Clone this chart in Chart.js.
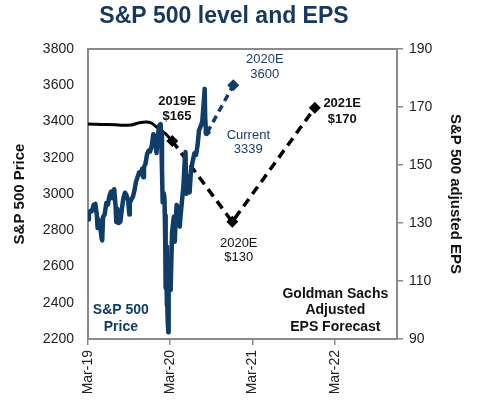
<!DOCTYPE html>
<html><head><meta charset="utf-8">
<script src="https://cdn.jsdelivr.net/npm/chart.js@4"></script>
<style>html,body{margin:0;padding:0;background:#fff;}#wrap{width:484px;height:409px;}</style>
</head><body><div id="wrap"><canvas id="c" width="484" height="409"></canvas></div>
<script>
// X axis unit: months along the axis, 0 = "Mar-19" tick
const tickValues = [0, 12, 24, 36];
const tickLabels = ['Mar-19', 'Mar-20', 'Mar-21', 'Mar-22'];
const priceTicks = [2200, 2400, 2600, 2800, 3000, 3200, 3400, 3600, 3800];
const epsTicks = [90, 110, 130, 150, 170, 190];

// S&P 500 price
const priceMonths = [0,0.13,0.37,0.57,0.83,1.07,1.3,1.4,1.53,1.77,2.0,2.07,2.2,2.43,2.67,2.9,3.13,3.37,3.6,3.83,4.03,4.13,4.27,4.43,4.5,4.73,4.97,5.17,5.4,5.63,5.87,6.03,6.1,6.33,6.57,6.8,7.0,7.23,7.47,7.7,7.93,8.07,8.17,8.4,8.63,8.87,9.07,9.3,9.53,9.77,10.0,10.2,10.43,10.6,10.67,10.8,10.9,11.07,11.17,11.27,11.3,11.37,11.4,11.5,11.53,11.57,11.63,11.73,11.77,11.83,11.87,12.0,12.07,12.27,12.53,12.67,12.77,12.93,13.0,13.23,13.4,13.47,13.7,13.93,14.13,14.23,14.33,14.37,14.6,14.83,15.03,15.3,15.53,15.77,16.0,16.2,16.43,16.67,16.9,17.03,17.1,17.23,17.4];
const priceLevels = [2860,2892,2907,2905,2940,2946,2881,2812,2860,2826,2752,2744,2873,2887,2950,2942,2990,3014,2977,3026,2932,2845,2919,2840,2889,2847,2926,2979,3007,2992,2962,2887,2952,2970,2986,3023,3067,3093,3120,3110,3141,3093,3146,3169,3221,3240,3235,3265,3330,3295,3226,3328,3380,3386,3338,3128,2954,3003,2972,2747,2882,2481,2711,2386,2529,2398,2305,2237,2447,2630,2541,2471,2489,2790,2875,2737,2837,2939,2831,2930,2820,2864,2955,3044,3194,3232,3002,3041,3097,3009,3130,3185,3225,3216,3271,3351,3373,3397,3508,3580,3427,3332,3339];

// Price forecast: Current -> 2020E
const priceFcMonths = [17.4, 21.2];
const priceFcLevels = [3339, 3600];

// EPS trailing line (solid) and forecast (dashed)
const epsMonths = [0, 2, 4, 5, 6.3, 7.5, 8.5, 9.3, 10.1, 10.7, 11.3, 12.3];
const epsValues = [164.1, 164.0, 163.9, 163.7, 163.8, 164.6, 164.8, 164.4, 162.9, 161.9, 160.8, 158.3];
const epsFcMonths = [12.3, 21.06, 33.1];
const epsFcValues = [158.3, 130.4, 169.7];

const NAVY = '#103c68';
const FONT = "'Liberation Sans', Arial, sans-serif";

const annotations = [
  {lines:['2019E','$165'], x:13.0, y:3513, color:'#111', bold:true, size:13, lh:15},
  {lines:['2020E','3600'], x:25.8, y:3745, color:'#1d3d66', bold:false, size:13, lh:15},
  {lines:['Current','3339'], x:23.4, y:3325, color:'#1d3d66', bold:false, size:13, lh:14},
  {lines:['2020E','$130'], x:22.0, y:2730, color:'#111', bold:false, size:13, lh:14},
  {lines:['2021E','$170'], x:37.1, y:3502, color:'#111', bold:true, size:13, lh:16},
  {lines:['S&P 500','Price'], x:4.8, y:2360, color:NAVY, bold:true, size:14, lh:17},
  {lines:['Goldman Sachs','Adjusted','EPS Forecast'], x:36.1, y:2448, color:'#111', bold:true, size:14, lh:16.5}
];

const zip = (xs, ys) => xs.map((x, i) => ({x, y: ys[i]}));

const decor = {
  id: 'decor',
  beforeDatasetsDraw(chart) {
    const {ctx, chartArea: a} = chart;
    ctx.save();
    ctx.strokeStyle = '#8a8a8a';
    ctx.lineWidth = 2;
    ctx.strokeRect(a.left, a.top, a.right - a.left, a.bottom - a.top);
    ctx.restore();
  },
  afterDraw(chart) {
    const {ctx} = chart;
    const xs = chart.scales.x, ys = chart.scales.y;
    ctx.save();
    ctx.textAlign = 'center';
    ctx.textBaseline = 'middle';
    ctx.fillStyle = '#17375e';
    ctx.font = 'bold 23px ' + FONT;
    ctx.fillText('S&P 500 level and EPS', 224, 17);
    annotations.forEach(an => {
      const px = xs.getPixelForValue(an.x), py = ys.getPixelForValue(an.y);
      ctx.fillStyle = an.color;
      ctx.font = (an.bold ? 'bold ' : '') + an.size + 'px ' + FONT;
      an.lines.forEach((t, i) => ctx.fillText(t, px, py + i * an.lh));
    });
    ctx.restore();
  }
};

new Chart(document.getElementById('c'), {
  type: 'line',
  data: {
    datasets: [
      {data: zip(priceMonths, priceLevels), yAxisID: 'y', borderColor: NAVY, borderWidth: 4.5, pointRadius: 0, tension: 0, borderJoinStyle: 'round'},
      {data: zip(priceFcMonths, priceFcLevels), yAxisID: 'y', borderColor: NAVY, backgroundColor: NAVY, borderWidth: 3.5, borderDash: [7, 5],
        pointStyle: 'rectRot', pointRadius: [4, 6], pointBorderWidth: 0, tension: 0},
      {data: zip(epsMonths, epsValues), yAxisID: 'y1', borderColor: '#000', borderWidth: 3, pointRadius: 0, cubicInterpolationMode: 'monotone'},
      {data: zip(epsFcMonths, epsFcValues), yAxisID: 'y1', borderColor: '#000', backgroundColor: '#000', borderWidth: 3.5, borderDash: [9, 6],
        pointStyle: 'rectRot', pointRadius: 6, pointBorderWidth: 0, tension: 0}
    ]
  },
  options: {
    responsive: false,
    animation: false,
    layout: {padding: {top: 49, left: 0, right: 0, bottom: 0}},
    plugins: {legend: {display: false}, tooltip: {enabled: false}, title: {display: false}},
    scales: {
      x: {
        type: 'linear', min: 0, max: 45.1,
        afterBuildTicks: s => { s.ticks = tickValues.map(v => ({value: v})); },
        afterFit: s => { s.height = 70; },
        ticks: {autoSkip: false, minRotation: 90, maxRotation: 90, padding: 5, color: '#222',
          font: {family: FONT, size: 14}, callback: v => tickLabels[tickValues.indexOf(v)]},
        grid: {display: true, drawOnChartArea: false, drawTicks: true, tickLength: 6, color: '#8a8a8a', lineWidth: 1.5},
        border: {display: false}
      },
      y: {
        position: 'left', min: 2200, max: 3800,
        afterBuildTicks: s => { s.ticks = priceTicks.map(v => ({value: v})); },
        afterFit: s => { s.width = 88; },
        ticks: {padding: 14, color: '#222', font: {family: FONT, size: 14}, callback: v => String(v)},
        grid: {display: true, drawOnChartArea: false, drawTicks: false, color: '#8a8a8a'},
        border: {display: false},
        title: {display: true, text: 'S&P 500 Price', color: '#111', font: {family: FONT, size: 15, weight: 'bold'}, padding: {top: 11, bottom: 0}}
      },
      y1: {
        position: 'right', min: 90, max: 190,
        afterBuildTicks: s => { s.ticks = epsTicks.map(v => ({value: v})); },
        afterFit: s => { s.width = 87; },
        ticks: {padding: 6, color: '#222', font: {family: FONT, size: 14}, callback: v => String(v)},
        grid: {display: true, drawOnChartArea: false, drawTicks: true, tickLength: 6, color: '#8a8a8a', lineWidth: 1.5},
        border: {display: false},
        title: {display: true, text: 'S&P 500 adjusted EPS', color: '#111', font: {family: FONT, size: 15, weight: 'bold'}, padding: {top: 20, bottom: 0}}
      }
    }
  },
  plugins: [decor]
});
</script>
</body></html>
